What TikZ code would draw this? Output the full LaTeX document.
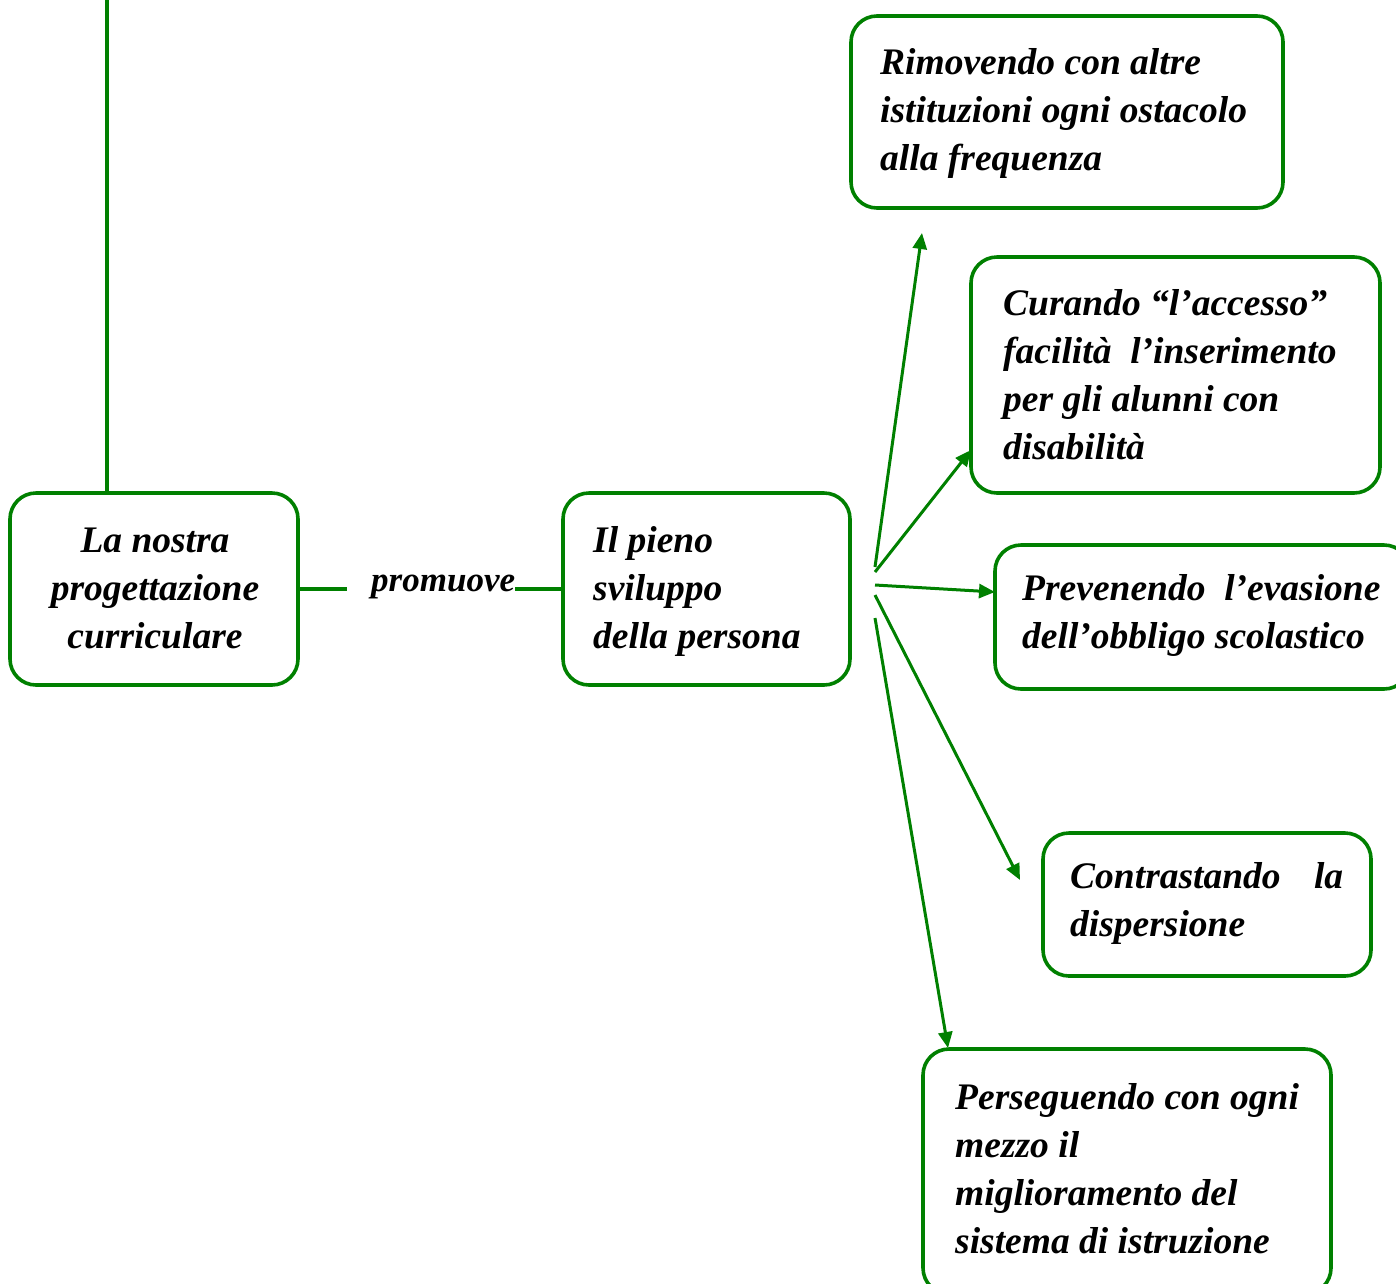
\documentclass[tikz,border=0pt]{standalone}
\usepackage{fontspec}
\setmainfont{Liberation Serif}
\usetikzlibrary{arrows.meta}
\definecolor{mapgreen}{RGB}{0,128,0}
\begin{document}
\begin{tikzpicture}[x=1pt,y=-1pt,
  box/.style={draw=mapgreen, line width=3.6pt, rounded corners=26pt, inner sep=0pt,
              outer sep=0pt, anchor=north west},
  txt/.style={font=\fontsize{37.5}{48}\selectfont\bfseries\itshape, inner sep=0pt,
              align=left, anchor=base west},
  link/.style={draw=mapgreen, line width=3.6pt},
  arr/.style={draw=mapgreen, line width=3pt, -{Triangle[length=16pt,width=14pt]}}]
\useasboundingbox (0,0) rectangle (1396,1283);
\clip (0,0) rectangle (1396,1283);

% boxes
\node[box, minimum width=288pt, minimum height=192pt] (b1) at (10,493) {};
\node[box, minimum width=287pt, minimum height=192pt] (b2) at (563,493) {};
\node[box, minimum width=432pt, minimum height=192pt] (b3) at (851,16) {};
\node[box, minimum width=409pt, minimum height=236pt] (b4) at (971,257) {};
\node[box, minimum width=415pt, minimum height=144pt] (b5) at (995,545) {};
\node[box, minimum width=328pt, minimum height=143pt] (b6) at (1043,833) {};
\node[box, minimum width=408pt, minimum height=245pt] (b7) at (923,1049) {};

% texts (placed by the baseline of their last line)
\node[txt, align=center, anchor=base] (t1) at (155,648) {La nostra\\progettazione\\curriculare};
\node[txt] (t2) at (593,648) {Il pieno\\sviluppo\\della persona};
\node[txt] (t3) at (880,170) {Rimovendo con altre\\istituzioni ogni ostacolo\\alla frequenza};
\node[txt] (t4) at (1003,459) {Curando “l’accesso”\\facilità\ \ l’inserimento\\per gli alunni con\\disabilità};
\node[txt] (t5) at (1022,648) {Prevenendo\ \ l’evasione\\dell’obbligo scolastico};
\node[txt] (t6) at (1070,936) {\makebox[273pt][s]{Contrastando\hfill la}\\dispersione};
\node[txt] (t7) at (955,1253) {Perseguendo con ogni\\mezzo il\\miglioramento del\\sistema di istruzione};

% vertical line up from the first box
\coordinate (up) at (107,0);
\draw[link] (up) -- (up |- b1.north);

% "promuove" link
\coordinate (pa) at (347,589);
\coordinate (pb) at (515,589);
\node[txt, font=\fontsize{35}{40}\selectfont\bfseries\itshape] (pr) at (371,591) {promuove};
\draw[link] (b1.east |- pa) -- (pa);
\draw[link] (pb) -- (b2.west |- pb);

% fan of arrows
\coordinate (f1) at (875,567);
\coordinate (f2) at (875,572);
\coordinate (f3) at (875,585);
\coordinate (f4) at (875,595);
\coordinate (f5) at (875,618);
\coordinate (e1) at (922,233);
\coordinate (e2) at (971,450);
\coordinate (e3) at (995,592);
\coordinate (e4) at (1020,880);
\coordinate (e5) at (948,1048);
\draw[arr] (f1) -- (e1);
\draw[arr] (f2) -- (e2);
\draw[arr] (f3) -- (e3);
\draw[arr] (f4) -- (e4);
\draw[arr] (f5) -- (e5);
\end{tikzpicture}
\end{document}
